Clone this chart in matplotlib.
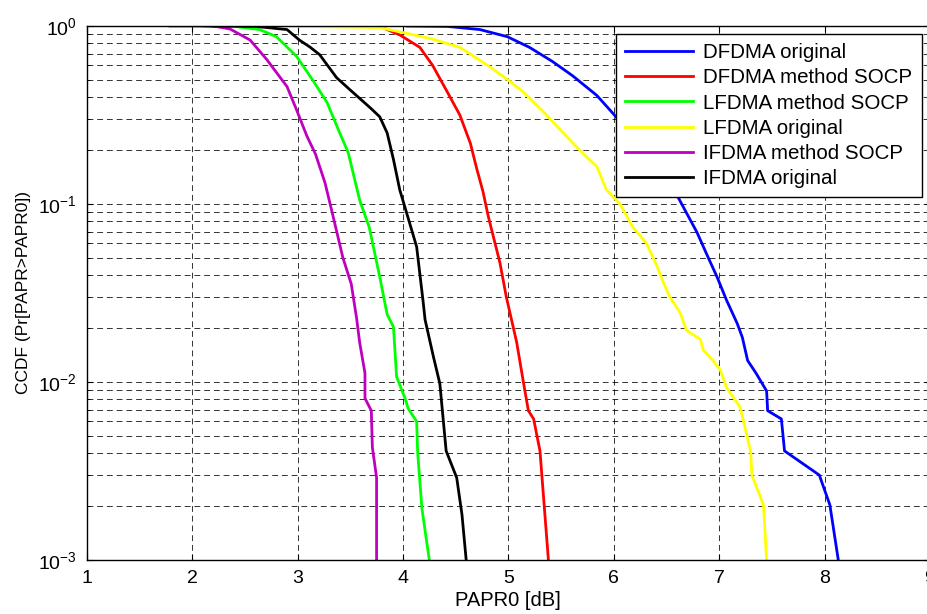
# Grafico CCDF do PAPR para DFDMA / LFDMA / IFDMA
import matplotlib
matplotlib.use('Agg')
import matplotlib.pyplot as plt
from matplotlib.ticker import LogLocator, FixedLocator, NullFormatter

plt.rcParams['font.family'] = ['Liberation Sans', 'DejaVu Sans']
plt.rcParams['mathtext.fontset'] = 'custom'
plt.rcParams['mathtext.rm'] = 'Liberation Sans'
plt.rcParams['mathtext.it'] = 'Liberation Sans'

# Valores (PAPR0 em dB, CCDF)
dfdma_orig_x = [4.04, 4.42, 4.73, 4.99, 5.20, 5.42, 5.61, 5.84, 5.99, 6.30, 6.60, 6.69, 6.79,
                6.88, 6.98, 7.07, 7.17, 7.22, 7.27, 7.35, 7.45, 7.46, 7.59, 7.62, 7.95, 8.05, 8.13]
dfdma_orig_y = [1.0, 0.995, 0.955, 0.871, 0.759, 0.631, 0.525, 0.407, 0.324, 0.200, 0.112, 0.0891, 0.0692,
                0.0525, 0.0389, 0.0288, 0.0214, 0.0178, 0.0132, 0.0112, 0.0089, 0.0069, 0.0062, 0.0041, 0.0030, 0.00204, 0.001]

dfdma_socp_x = [3.30, 3.78, 3.97, 4.16, 4.28, 4.42, 4.54, 4.64, 4.70, 4.76, 4.81, 4.92, 4.98,
                5.08, 5.14, 5.19, 5.24, 5.30, 5.38]
dfdma_socp_y = [1.0, 0.995, 0.891, 0.759, 0.603, 0.427, 0.316, 0.219, 0.158, 0.117, 0.085, 0.0468, 0.0302,
                0.0166, 0.0102, 0.0069, 0.0062, 0.0041, 0.001]

lfdma_socp_x = [2.10, 2.40, 2.64, 2.80, 2.99, 3.14, 3.28, 3.40, 3.48, 3.59, 3.68, 3.78, 3.85,
                3.91, 3.94, 4.02, 4.05, 4.13, 4.14, 4.18, 4.25]
lfdma_socp_y = [1.0, 0.995, 0.955, 0.871, 0.676, 0.501, 0.372, 0.251, 0.195, 0.105, 0.0741, 0.0389, 0.0240,
                0.0204, 0.0107, 0.0081, 0.0071, 0.0060, 0.0040, 0.00195, 0.001]

lfdma_orig_x = [2.77, 3.78, 4.26, 4.54, 4.80, 4.99, 5.14, 5.33, 5.52, 5.68, 5.84, 5.93, 6.06, 6.18,
                6.31, 6.41, 6.47, 6.53, 6.63, 6.69, 6.82, 6.85, 6.94, 7.01, 7.07, 7.20, 7.25, 7.30,
                7.31, 7.42, 7.45]
lfdma_orig_y = [1.0, 0.98, 0.851, 0.759, 0.603, 0.501, 0.427, 0.331, 0.251, 0.200, 0.162, 0.120, 0.100, 0.0741,
                0.0603, 0.0447, 0.0363, 0.0302, 0.0245, 0.0195, 0.0174, 0.0151, 0.0132, 0.0117, 0.0093, 0.0072, 0.0054, 0.0040,
                0.0030, 0.00204, 0.001]

ifdma_socp_x = [1.79, 2.10, 2.23, 2.36, 2.55, 2.71, 2.90, 2.99, 3.09, 3.17, 3.26, 3.33, 3.43,
                3.51, 3.56, 3.59, 3.64, 3.64, 3.70, 3.71, 3.75, 3.75]
ifdma_socp_y = [1.0, 1.0, 0.993, 0.962, 0.834, 0.646, 0.457, 0.339, 0.240, 0.191, 0.132, 0.089, 0.050,
                0.0355, 0.0229, 0.0166, 0.0112, 0.0081, 0.0069, 0.0043, 0.0029, 0.001]

ifdma_orig_x = [2.20, 2.60, 2.90, 3.02, 3.12, 3.21, 3.37, 3.50, 3.69, 3.78, 3.85, 3.91, 3.97, 4.03,
                4.13, 4.19, 4.21, 4.29, 4.35, 4.41, 4.51, 4.56, 4.60]
ifdma_orig_y = [1.0, 0.995, 0.955, 0.832, 0.760, 0.690, 0.513, 0.437, 0.347, 0.309, 0.251, 0.178, 0.120, 0.0912,
                0.0575, 0.0288, 0.0224, 0.0138, 0.0098, 0.0041, 0.0029, 0.0018, 0.001]

x_ticks = [1, 2, 3, 4, 5, 6, 7, 8, 9]

# Criando a figura
fig = plt.figure(figsize=(9.27, 6.14), dpi=100)
ax = fig.add_axes([86.7 / 927, 54 / 614, (930 - 86.7) / 927, (560 - 26) / 614])

lw = 2.0
ax.semilogy(dfdma_orig_x, dfdma_orig_y, color='#0000FF', lw=lw, label='DFDMA original')
ax.semilogy(dfdma_socp_x, dfdma_socp_y, color='#FF0000', lw=lw, label='DFDMA method SOCP')
ax.semilogy(lfdma_socp_x, lfdma_socp_y, color='#00FF00', lw=lw, label='LFDMA method SOCP')
ax.semilogy(lfdma_orig_x, lfdma_orig_y, color='#FFFF00', lw=lw, label='LFDMA original')
ax.semilogy(ifdma_socp_x, ifdma_socp_y, color='#BF00BF', lw=lw, label='IFDMA method SOCP')
ax.semilogy(ifdma_orig_x, ifdma_orig_y, color='#000000', lw=lw, label='IFDMA original')

ax.set_xlim(1, 9)
ax.set_ylim(1e-3, 1)
ax.xaxis.set_major_locator(FixedLocator(x_ticks))
ax.yaxis.set_major_locator(LogLocator(base=10, numticks=10))
ax.yaxis.set_minor_locator(LogLocator(base=10, subs=range(2, 10), numticks=20))
ax.yaxis.set_minor_formatter(NullFormatter())

# Grade tracejada no estilo do MATLAB
grid_style = dict(color='k', linestyle=(0, (6, 4)), linewidth=0.7, alpha=0.8)
ax.grid(True, which='major', axis='x', **grid_style)
ax.grid(True, which='both', axis='y', **grid_style)

ax.tick_params(which='both', direction='in', top=True, right=True, labelsize=14, colors='k')
ax.tick_params(which='major', length=4, pad=7)
ax.tick_params(which='minor', length=2.5)
for s in ax.spines.values():
    s.set_linewidth(1.0)

ax.set_xlabel('PAPR0 [dB]', fontsize=14.5, labelpad=3)
ax.set_ylabel('CCDF (Pr[PAPR>PAPR0])', fontsize=12.5, labelpad=5)

leg = ax.legend(loc='upper left', bbox_to_anchor=(616 / 927, 1 - 34 / 614), bbox_transform=fig.transFigure,
                borderaxespad=0, fontsize=14.8, fancybox=False, framealpha=1, edgecolor='k',
                handlelength=3.3, handletextpad=0.5, labelspacing=0.3, borderpad=0.45)
leg.get_frame().set_linewidth(1.0)

fig.savefig('out.png', dpi=100)
